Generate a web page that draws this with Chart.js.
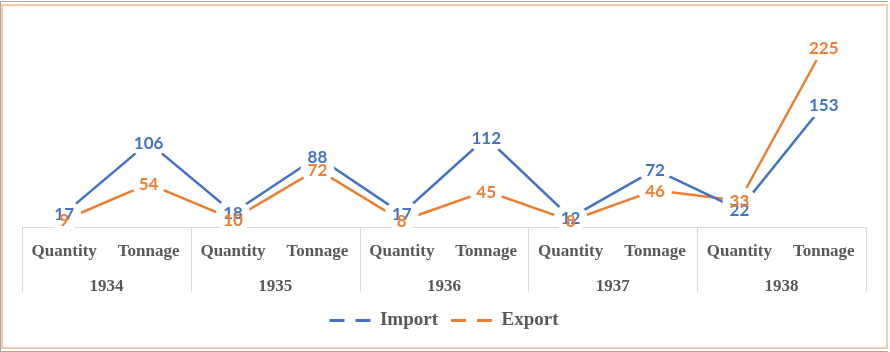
<!DOCTYPE html>
<html>
<head>
<meta charset="utf-8">
<script src="https://cdn.jsdelivr.net/npm/chart.js@4.4.1/dist/chart.umd.min.js"></script>
<style>
  html, body { margin: 0; padding: 0; background: #fff; }
  #wrap { position: relative; width: 890px; height: 352px; }
  #frame {
    position: absolute; left: 1px; top: 4px; width: 883px; height: 341px;
    border: 2px solid #f6c9aa; pointer-events: none;
  }
  #edge {
    position: absolute; left: 0; top: 1px; width: 887px; height: 349px;
    border: 1px solid #a9a9a9; border-right: none; pointer-events: none;
  }
</style>
</head>
<body>
<div id="wrap">
  <canvas id="grafico" width="890" height="352"></canvas>
  <div id="edge"></div>
  <div id="frame"></div>
</div>
<script>
// Datos del gráfico
const SUBCATEGORIAS = ['Quantity', 'Tonnage', 'Quantity', 'Tonnage', 'Quantity', 'Tonnage', 'Quantity', 'Tonnage', 'Quantity', 'Tonnage'];
const ANIOS = ['1934', '1935', '1936', '1937', '1938'];
const IMPORT = [17, 106, 18, 88, 17, 112, 12, 72, 22, 153];
const EXPORT = [9, 54, 10, 72, 8, 45, 8, 46, 33, 225];

const AZUL = '#4472C4';
const NARANJA = '#ED7D31';
const GRIS_TEXTO = '#595959';
const GRIS_LINEA = '#d9d9d9';
const FUENTE_EJE = '"Liberation Serif", "Times New Roman", serif';

// Caja de la tabla del eje X (líneas entre años)
const cajaEje = {
    id: 'cajaEje',
    beforeDatasetsDraw(chart) {
        const ctx = chart.ctx;
        const x = chart.scales.x;
        const x2 = chart.scales.x2;
        const top = chart.chartArea.bottom;
        const bottom = x2.bottom - 6;
        ctx.save();
        ctx.strokeStyle = GRIS_LINEA;
        ctx.lineWidth = 1;
        ctx.beginPath();
        ctx.moveTo(x.left, Math.round(top) + 0.5);
        ctx.lineTo(x.right, Math.round(top) + 0.5);
        for (let i = 0; i <= ANIOS.length; i++) {
            let px;
            if (i === 0) px = x.left;
            else if (i === ANIOS.length) px = x.right;
            else px = (x.getPixelForValue(i * 2 - 1) + x.getPixelForValue(i * 2)) / 2;
            px = Math.round(px) + 0.5;
            ctx.moveTo(px, top);
            ctx.lineTo(px, bottom);
        }
        ctx.stroke();
        ctx.restore();
    }
};

// Etiquetas de datos centradas en el punto, con hueco blanco alrededor
const etiquetas = {
    id: 'etiquetas',
    afterDatasetsDraw(chart) {
        const ctx = chart.ctx;
        ctx.save();
        ctx.font = 'bold 17px Lato, "Open Sans", sans-serif';
        ctx.textAlign = 'center';
        ctx.textBaseline = 'middle';
        const items = [];
        chart.data.datasets.forEach((ds, i) => {
            chart.getDatasetMeta(i).data.forEach((pt, j) => {
                items.push({ x: pt.x, y: pt.y, text: String(ds.data[j]), color: ds.borderColor });
            });
        });
        // primero los huecos
        ctx.fillStyle = '#fff';
        items.forEach(it => {
            const w = ctx.measureText(it.text).width;
            ctx.beginPath();
            ctx.ellipse(it.x, it.y, w / 2 + 7, 14, 0, 0, Math.PI * 2);
            ctx.fill();
        });
        // luego los textos
        items.forEach(it => {
            ctx.fillStyle = it.color;
            ctx.fillText(it.text, it.x, it.y + 1);
        });
        ctx.restore();
    }
};

new Chart(document.getElementById('grafico'), {
    type: 'line',
    data: {
        labels: SUBCATEGORIAS,
        datasets: [
            {
                label: 'Import',
                data: IMPORT,
                borderColor: AZUL,
                backgroundColor: AZUL,
                borderWidth: 2.5,
                pointRadius: 0,
                tension: 0
            },
            {
                label: 'Export',
                data: EXPORT,
                borderColor: NARANJA,
                backgroundColor: NARANJA,
                borderWidth: 2.5,
                pointRadius: 0,
                tension: 0
            }
        ]
    },
    options: {
        responsive: false,
        animation: false,
        layout: { padding: { left: 22, right: 24, top: 27, bottom: 12 } },
        scales: {
            y: { display: false, min: 0, max: 250 },
            x: {
                offset: true,
                grid: { display: false, drawTicks: false },
                border: { display: false },
                ticks: {
                    color: GRIS_TEXTO,
                    padding: 14,
                    maxRotation: 0,
                    autoSkip: false,
                    font: { family: FUENTE_EJE, size: 17, weight: 'bold' }
                }
            },
            x2: {
                type: 'category',
                labels: ANIOS,
                offset: true,
                position: 'bottom',
                grid: { display: false, drawTicks: false },
                border: { display: false },
                ticks: {
                    color: GRIS_TEXTO,
                    padding: 1,
                    maxRotation: 0,
                    font: { family: FUENTE_EJE, size: 17, weight: 'bold' }
                }
            }
        },
        plugins: {
            legend: {
                position: 'bottom',
                labels: {
                    usePointStyle: true,
                    pointStyle: 'line',
                    pointStyleWidth: 41,
                    boxHeight: 18,
                    padding: 13,
                    color: GRIS_TEXTO,
                    font: { family: FUENTE_EJE, size: 19, weight: 'bold' },
                    generateLabels: chart => chart.data.datasets.map((ds, i) => ({
                        text: ds.label,
                        fillStyle: ds.borderColor,
                        strokeStyle: ds.borderColor,
                        lineWidth: 3,
                        lineDash: [15, 11],
                        pointStyle: 'line',
                        hidden: false,
                        datasetIndex: i,
                        fontColor: GRIS_TEXTO
                    }))
                }
            },
            tooltip: { enabled: false }
        }
    },
    plugins: [cajaEje, etiquetas]
});
</script>
</body>
</html>
